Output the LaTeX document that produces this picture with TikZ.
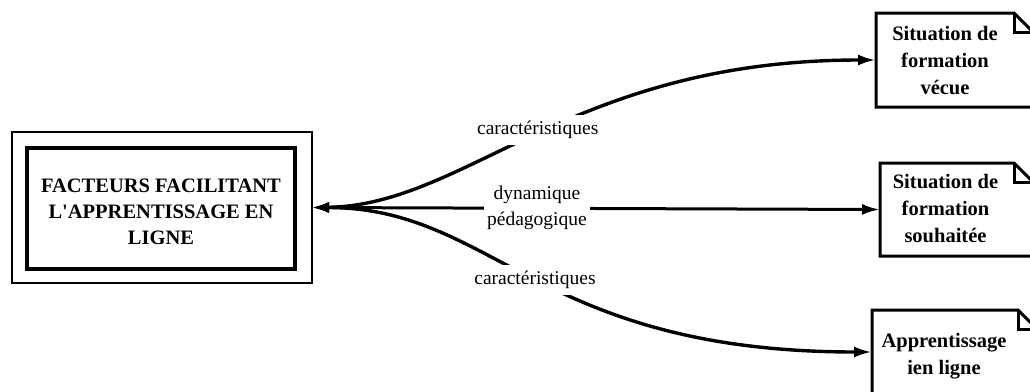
\documentclass[tikz,border=0pt]{standalone}
\usepackage{fontspec}
\setmainfont{Liberation Serif}
\usetikzlibrary{arrows.meta}
\begin{document}
\begin{tikzpicture}[x=1pt,y=-1pt,
  framebox/.style={draw=none,inner sep=0pt,outer sep=0pt},
  boxtext/.style={align=center,inner sep=0pt,font=\fontsize{20.5}{26}\selectfont\bfseries},
  notetext/.style={align=center,inner sep=0pt,font=\fontsize{20.5}{27}\selectfont\bfseries},
  edgelabel/.style={fill=white,align=center,inner xsep=3pt,inner ysep=6pt,
    font=\fontsize{19.5}{26}\selectfont},
  conn/.style={line width=3.4pt,{Latex[length=17pt,width=11pt]}-{Latex[length=18pt,width=11pt]}},
  fold/.store in=\foldsize, fold=19pt]
\path[use as bounding box,clip] (0,0) rectangle (1030,391);

% central double-framed box
\node[framebox,minimum width=300pt,minimum height=151pt] (outer) at (162,207.5) {};
\node[framebox,minimum width=268pt,minimum height=121pt] (inner) at (161,208.5) {};
\draw[line width=2.4pt] (outer.south west) rectangle (outer.north east);
\draw[line width=3.2pt] (inner.south west) rectangle (inner.north east);
\node[boxtext] (ftext) at (161,212) {FACTEURS FACILITANT\\L\textquotesingle APPRENTISSAGE EN\\LIGNE};

% dog-eared boxes on the right
\node[framebox,minimum width=157pt,minimum height=94pt] (s1) at (954.5,60) {};
\node[framebox,minimum width=153pt,minimum height=93pt] (s2) at (956.5,209.5) {};
\node[framebox,minimum width=165pt,minimum height=84pt] (s3) at (954.5,352) {};
\foreach \n in {s1,s2,s3}{
  \draw[line width=3pt,line join=miter]
    (\n.south east) -- ([yshift=-\foldsize]\n.north east)
    -- ([xshift=-\foldsize]\n.north east) -- (\n.north west)
    -- (\n.south west) -- cycle;
  \draw[line width=3pt] ([xshift=-\foldsize]\n.north east)
    |- ([yshift=-\foldsize]\n.north east);
}
\node[notetext] (t1) at (945,61) {Situation de\\formation\\vécue};
\node[notetext] (t2) at (945.5,209) {Situation de\\formation\\souhaitée};
\node[notetext] (t3) at (944,356) {Apprentissage\\ien ligne};

% connectors with their labels
\draw[conn] (outer.east) .. controls +(155,-2) and +(-305,0) .. (s1.west)
  node[edgelabel,pos=0.5,yshift=3pt] (l1) {caractéristiques};
\draw[conn,line width=3pt] (outer.east) -- (s2.west)
  node[edgelabel,pos=0.396,inner ysep=2pt] (l2) {dynamique\\pédagogique};
\draw[conn] (outer.east) .. controls +(183,0) and +(-335,0) .. (s3.west)
  node[edgelabel,pos=0.5] (l3) {caractéristiques};
\end{tikzpicture}
\end{document}
